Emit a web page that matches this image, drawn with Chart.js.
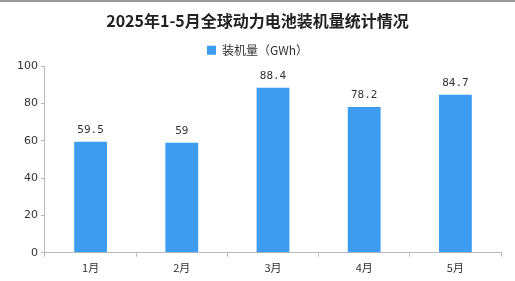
<!DOCTYPE html>
<html>
<head>
<meta charset="utf-8">
<script src="https://cdn.jsdelivr.net/npm/chart.js@4"></script>
<style>
  html, body { margin: 0; padding: 0; background: #fff; }
  #wrap { width: 515px; height: 281px; position: relative; border-top: 2px solid #999; box-sizing: border-box; }
</style>
</head>
<body>
<div id="wrap"><canvas id="installChart"></canvas></div>
<script>
// Data
const months = ['1月', '2月', '3月', '4月', '5月'];
const installed = [59.5, 59, 88.4, 78.2, 84.7];
const seriesName = '装机量（GWh）';
const chartTitle = '2025年1-5月全球动力电池装机量统计情况';

// Draw value labels above each bar
const valueLabels = {
    id: 'valueLabels',
    afterDatasetsDraw(chart) {
        const ctx = chart.ctx;
        const meta = chart.getDatasetMeta(0);
        ctx.save();
        ctx.font = '11px "DejaVu Sans Mono", monospace';
        ctx.fillStyle = '#333';
        ctx.textAlign = 'center';
        ctx.textBaseline = 'bottom';
        meta.data.forEach((bar, i) => {
            ctx.fillText(String(installed[i]), bar.x, bar.y - 6);
        });
        ctx.restore();
    }
};

const ctx = document.getElementById('installChart').getContext('2d');
new Chart(ctx, {
    type: 'bar',
    data: {
        labels: months,
        datasets: [{
            label: seriesName,
            data: installed,
            backgroundColor: '#3d9cf0',
            borderWidth: 0,
            categoryPercentage: 1,
            barPercentage: 0.36
        }]
    },
    options: {
        responsive: true,
        maintainAspectRatio: false,
        animation: false,
        layout: { padding: { left: 14, right: 14, top: 4, bottom: 3 } },
        plugins: {
            title: {
                display: true,
                text: chartTitle,
                color: '#222',
                font: { size: 16, weight: 'bold', family: '"Noto Sans CJK SC", sans-serif' },
                padding: { top: 5, bottom: 5 }
            },
            legend: {
                display: true,
                labels: {
                    boxWidth: 9,
                    boxHeight: 9,
                    color: '#333',
                    font: { size: 12, family: '"Noto Sans CJK SC", sans-serif' },
                    padding: 9
                }
            },
            tooltip: { enabled: false }
        },
        scales: {
            y: {
                min: 0,
                max: 100,
                ticks: {
                    stepSize: 20,
                    color: '#333',
                    font: { size: 11, family: '"DejaVu Sans", sans-serif' },
                    padding: 3
                },
                grid: {
                    drawOnChartArea: false,
                    color: '#bbb',
                    tickLength: 4
                },
                border: { color: '#bbb' }
            },
            x: {
                ticks: {
                    color: '#333',
                    font: { size: 11, family: '"Noto Sans CJK SC", sans-serif' },
                    padding: 4
                },
                grid: {
                    drawOnChartArea: false,
                    offset: true,
                    color: '#bbb',
                    tickLength: 4
                },
                border: { color: '#bbb' }
            }
        }
    },
    plugins: [valueLabels]
});
</script>
</body>
</html>
